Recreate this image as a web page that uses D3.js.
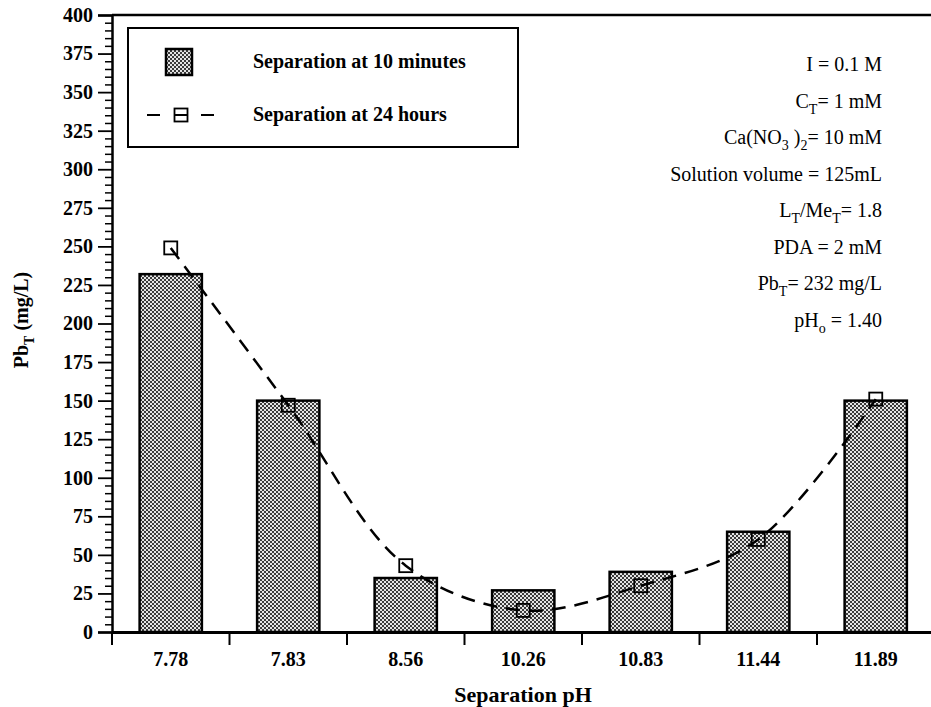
<!DOCTYPE html>
<html>
<head>
<meta charset="utf-8">
<script src="https://cdn.jsdelivr.net/npm/d3@7"></script>
<style>
  html, body { margin: 0; padding: 0; background: #fff; }
  svg { display: block; }
  text { font-family: "Liberation Serif", "Times New Roman", serif; fill: #000; }
</style>
</head>
<body>
<svg id="chart" width="931" height="707"></svg>
<script>
// ---- data ----
const categories = ["7.78", "7.83", "8.56", "10.26", "10.83", "11.44", "11.89"];
const tenMinutes = [232, 150, 35, 27, 39, 65, 150];
const twentyFourHours = [249, 147, 43, 14, 30, 60, 151];
const yTicks = [0, 25, 50, 75, 100, 125, 150, 175, 200, 225, 250, 275, 300, 325, 350, 375, 400];
const legendLabels = ["Separation at 10 minutes", "Separation at 24 hours"];
const notes = [
  [["I = 0.1 M", 0]],
  [["C", 0], ["T", 1], ["= 1 mM", 0]],
  [["Ca(NO", 0], ["3", 1], [" )", 0], ["2", 1], ["= 10 mM", 0]],
  [["Solution volume = 125mL", 0]],
  [["L", 0], ["T", 1], ["/Me", 0], ["T", 1], ["= 1.8", 0]],
  [["PDA = 2 mM", 0]],
  [["Pb", 0], ["T", 1], ["= 232 mg/L", 0]],
  [["pH", 0], ["o", 1], [" = 1.40", 0]]
];

// ---- layout ----
const svg = d3.select("#chart");
const margin = { left: 112, top: 15, bottom: 75 };
const plotW = 822.5;
const plotH = 707 - margin.top - margin.bottom; // 617
const g = svg.append("g").attr("transform", `translate(${margin.left},${margin.top})`);

const x = d3.scaleBand().domain(categories).range([0, plotW]).padding(0);
const y = d3.scaleLinear().domain([0, 400]).range([plotH, 0]);

// pattern for bars
const defs = svg.append("defs");
const pat = defs.append("pattern").attr("id", "stipple").attr("patternUnits", "userSpaceOnUse")
  .attr("width", 4).attr("height", 4);
pat.append("rect").attr("width", 4).attr("height", 4).attr("fill", "#e4e4e4");
pat.append("rect").attr("x", 0).attr("y", 0).attr("width", 2).attr("height", 2).attr("fill", "#3a3a3a");
pat.append("rect").attr("x", 2).attr("y", 2).attr("width", 2).attr("height", 2).attr("fill", "#3a3a3a");

// bars
const barFrac = 0.53;
g.selectAll("rect.bar").data(categories).join("rect")
  .attr("class", "bar")
  .attr("x", d => x(d) + x.bandwidth() * (1 - barFrac) / 2)
  .attr("width", x.bandwidth() * barFrac)
  .attr("y", (d, i) => y(tenMinutes[i]))
  .attr("height", (d, i) => y(0) - y(tenMinutes[i]))
  .attr("fill", "url(#stipple)")
  .attr("stroke", "#000").attr("stroke-width", 2.5);

// line
const pts = categories.map((c, i) => [x(c) + x.bandwidth() / 2, y(twentyFourHours[i])]);
g.append("path").datum(pts)
  .attr("d", d3.line().curve(d3.curveCatmullRom.alpha(0.5)))
  .attr("fill", "none").attr("stroke", "#000").attr("stroke-width", 2.5)
  .attr("stroke-dasharray", "14,9");
const ms = 13;
g.selectAll("rect.mk").data(pts).join("rect")
  .attr("class", "mk")
  .attr("x", d => d[0] - ms / 2).attr("y", d => d[1] - ms / 2)
  .attr("width", ms).attr("height", ms)
  .attr("fill", "none").attr("stroke", "#000").attr("stroke-width", 1.8);

// y axis: minor ticks
const minor = d3.range(0, 401, 5).filter(v => v % 25 !== 0);
const yMinor = g.append("g").call(d3.axisLeft(y).tickValues(minor).tickSize(7).tickFormat(""));
yMinor.select(".domain").remove();
yMinor.selectAll("line").attr("stroke-width", 1.5);
const yAxis = g.append("g").call(d3.axisLeft(y).tickValues(yTicks).tickSize(14).tickPadding(5));
yAxis.select(".domain").attr("stroke-width", 2.5);
yAxis.selectAll("line").attr("stroke-width", 1.8);
yAxis.selectAll("text").attr("font-size", 20).attr("font-weight", "bold")
  .style("font-family", "'Liberation Serif', serif");

// x axis
const xAxis = g.append("g").attr("transform", `translate(0,${plotH})`)
  .call(d3.axisBottom(x).tickSize(0).tickPadding(20));
xAxis.select(".domain").attr("stroke-width", 3);
xAxis.selectAll("text").attr("font-size", 20).attr("font-weight", "bold")
  .style("font-family", "'Liberation Serif', serif");
const bounds = categories.map(c => x(c)).concat([x(categories[categories.length - 1]) + x.bandwidth()]);
g.selectAll("line.xt").data(bounds).join("line")
  .attr("class", "xt")
  .attr("x1", d => d).attr("x2", d => d)
  .attr("y1", plotH).attr("y2", plotH + 13)
  .attr("stroke", "#000").attr("stroke-width", 2);

// top & right frame
g.append("line").attr("x1", 0).attr("x2", plotW).attr("y1", 0).attr("y2", 0)
  .attr("stroke", "#000").attr("stroke-width", 2.5);
g.append("line").attr("x1", plotW).attr("x2", plotW).attr("y1", 0).attr("y2", plotH)
  .attr("stroke", "#000").attr("stroke-width", 2.5);

// axis titles
svg.append("text").attr("x", 523).attr("y", 702).attr("text-anchor", "middle")
  .attr("font-size", 22).attr("font-weight", "bold").text("Separation pH");
const yt = svg.append("text").attr("transform", "translate(28,320) rotate(-90)")
  .attr("text-anchor", "middle").attr("font-size", 20).attr("font-weight", "bold");
yt.append("tspan").text("Pb");
yt.append("tspan").attr("font-size", 14).attr("dy", 6).text("T");
yt.append("tspan").attr("dy", -6).text(" (mg/L)");

// legend
svg.append("rect").attr("x", 128).attr("y", 28).attr("width", 390).attr("height", 119)
  .attr("fill", "#fff").attr("stroke", "#000").attr("stroke-width", 2);
svg.append("rect").attr("x", 166).attr("y", 49).attr("width", 26).attr("height", 26)
  .attr("fill", "url(#stipple)").attr("stroke", "#000").attr("stroke-width", 2.5);
svg.append("line").attr("x1", 147).attr("x2", 215).attr("y1", 115).attr("y2", 115)
  .attr("stroke", "#000").attr("stroke-width", 2).attr("stroke-dasharray", "13,14");
svg.append("rect").attr("x", 174.5).attr("y", 108.5).attr("width", 13).attr("height", 13)
  .attr("fill", "none").attr("stroke", "#000").attr("stroke-width", 1.8);
svg.selectAll("text.leg").data(legendLabels).join("text")
  .attr("class", "leg")
  .attr("x", 253).attr("y", (d, i) => 68 + i * 53)
  .attr("font-size", 20).attr("font-weight", "bold").text(d => d);

// annotations
notes.forEach((parts, i) => {
  const t = svg.append("text").attr("x", 882).attr("y", 71 + i * 36.5)
    .attr("text-anchor", "end").attr("font-size", 20);
  let sub = 0;
  parts.forEach(([s, isSub]) => {
    const ts = t.append("tspan").text(s);
    if (isSub && !sub) { ts.attr("font-size", 14).attr("dy", 6); sub = 1; }
    else if (isSub && sub) { ts.attr("font-size", 14); }
    else if (!isSub && sub) { ts.attr("dy", -6); sub = 0; }
  });
});
</script>
</body>
</html>
